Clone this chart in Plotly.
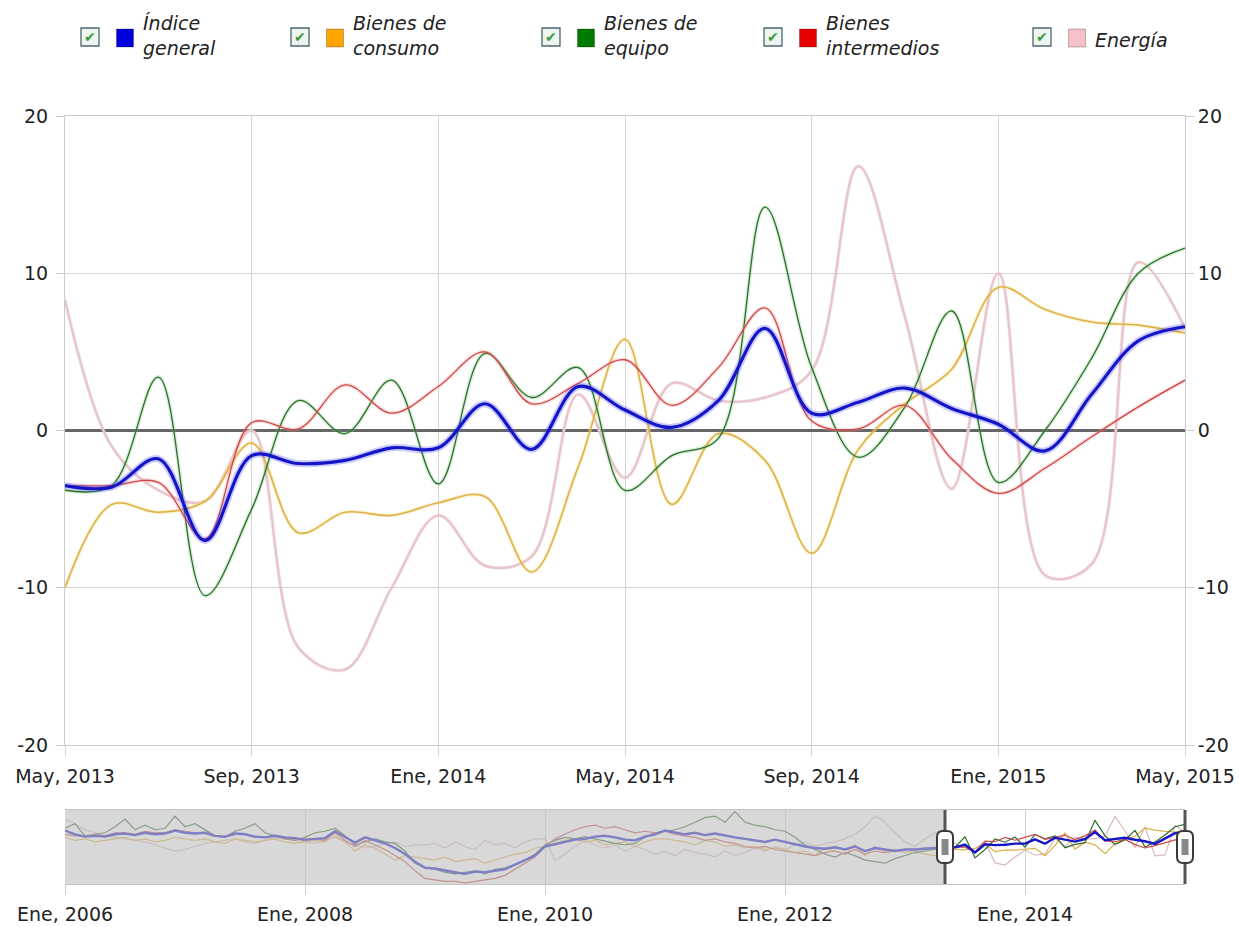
import plotly.graph_objects as go

# ---------------- data ----------------
series_names = ["Índice general", "Bienes de consumo", "Bienes de equipo",
                "Bienes intermedios", "Energía"]
legend_labels = ["Índice<br>general", "Bienes de<br>consumo", "Bienes de<br>equipo",
                 "Bienes<br>intermedios", "Energía"]

main_tick_labels = ["May, 2013", "Sep, 2013", "Ene, 2014", "May, 2014",
                    "Sep, 2014", "Ene, 2015", "May, 2015"]
nav_tick_labels = ["Ene, 2006", "Ene, 2008", "Ene, 2010", "Ene, 2012", "Ene, 2014"]
y_tick_values = [-20, -10, 0, 10, 20]
y_tick_labels = ["-20", "-10", "0", "10", "20"]

# Monthly values, Jan 2006 - Apr 2013 (navigator history)
general_hist = [7.5, 5, 3.5, 4, 3.5, 5, 5.5, 4.5, 6, 5, 5.5, 7.5,
                6, 5.5, 6, 4, 3.5, 5.5, 5, 3.5, 3, 4, 3, 2.5,
                1.5, 2, 2.5, 7, 3, -0.5, 3, 1, -1, -4, -8, -13,
                -17, -17.5, -19, -20, -21, -19.5, -20, -19, -18, -15, -12, -9,
                -3, -1.5, 0.5, 1.5, 2, 3.5, 4, 3, 1.5, 1, 3.5, 5,
                7.5, 6, 5, 6, 4.5, 5.5, 4, 3, 2, 1, 0, 1.5,
                0, -2, -3, -4, -4.5, -3.5, -5, -3, -6, -4, -5, -6,
                -5, -5, -4.5, -4]
consumo_hist = [3, 1, 2, 0, 1, 2, 3, 1, 2, 0, 1, 3,
                2, 1, 2, 0, -1, 2, 1, 0, 1, 2, 0, -1,
                0, 1, 0, 4, 0, -6, -2, -4, -8, -12, -9, -10,
                -11, -12, -10, -13, -12, -11, -14, -12, -10, -8, -7, -4,
                -3, -1, 1, 2, 0, 1, -2, -1, 0, -3, 0, 2,
                2, 1, 0, -2, 1, 0, -3, -2, -4, -3, -5, -4,
                -5, -7, -6, -9, -4, -6, -8, -2, -9, -3, -6, -5,
                -7, -6, -8, -9]
equipo_hist = [9, 12, 4, 5, 6, 10, 15, 8, 11, 8, 9, 17,
               10, 12, 8, 4, 3, 7, 9, 12, 6, 4, 2, 1,
               3, 6, 7, 9, 4, -2, 0, 2, 0, -1, -6, -14,
               -17, -18, -20, -21, -20, -19, -21, -18, -17, -15, -12, -8,
               -2, 1, 3, 2, 3.5, 2, 0, -1, -2, -1, 3, 6,
               7, 8, 10, 13, 16, 17, 13, 20, 13, 11, 10, 8,
               7, 3, -2, -5, -8, -10, -7, -9, -12, -13, -14, -11,
               -9, -7, -6, -5]
intermedios_hist = [5, 4, 4, 5, 4, 6, 6, 5, 7, 6, 6, 8,
                    7, 6, 6, 4, 3, 5, 5, 3, 3, 4, 2, 2,
                    1, 2, 1, 6, 1, -3, 1, -2, -5, -9, -13, -19,
                    -24, -25, -26, -26, -27, -26, -25, -24, -22, -18, -14, -10,
                    -3, 2, 5, 8, 10, 11, 9, 10, 8, 6, 7, 6,
                    7, 5, 4, 3, 1, 2, 0, -1, -3, -4, -3, -5,
                    -6, -7, -8, -9, -7, -6, -8, -5, -8, -6, -7, -6,
                    -5, -5, -4, -4]
energia_hist = [15, 12, 8, 6, 4, 3, 2, 1, 0, -2, -4, -6,
                -5, -3, -1, 0, 1, 2, 0, -1, 1, 3, 2, 1,
                0, -1, 1, 3, 0, -2, -4, -3, -1, 0, -3, -2,
                -2, -1, -4, 0, -3, -5, 1, -2, -1, -4, 0, 2,
                2, -12, -8, -3, 1, -2, -4, -2, -6, -3, -5, -8,
                -6, -9, -5, -7, -8, -10, -6, -9, -7, -4, -6, -3,
                -5, -2, 0, -3, -1, 0, 2, 5, 10, 17, 13, 6,
                0, -3, 2, 6]

# Monthly values, May 2013 - May 2015 (main chart)
general_main = [-3.5, -3.6, -1.8, -7.0, -1.6, -2.1, -1.9, -1.1, -1.1, 1.7, -1.2, 2.8,
                1.3, 0.2, 1.9, 6.5, 1.1, 1.8, 2.7, 1.4, 0.4, -1.3, 2.3, 5.7, 6.6]
consumo_main = [-10.0, -4.7, -5.2, -4.5, -0.8, -6.5, -5.2, -5.4, -4.6, -4.2, -9.0, -2.3,
                5.8, -4.7, -0.2, -1.9, -7.8, -1.2, 1.7, 3.9, 9.1, 7.7, 6.9, 6.7, 6.2]
equipo_main = [-3.8, -3.5, 3.4, -10.5, -5.0, 1.9, -0.2, 3.2, -3.4, 4.9, 2.1, 4.0,
               -3.8, -1.6, -0.5, 14.2, 4.0, -1.7, 1.5, 7.6, -3.3, 0.0, 4.6, 10.0, 11.6]
intermedios_main = [-3.5, -3.5, -3.3, -6.9, 0.5, 0.1, 2.9, 1.1, 2.8, 5.0, 1.7, 3.0,
                    4.5, 1.6, 4.0, 7.8, 0.6, 0.1, 1.6, -1.8, -4.0, -2.4, -0.4, 1.5, 3.2]
energia_main = [8.3, -1.0, -3.8, -4.5, 0.0, -13.8, -15.2, -10.0, -5.4, -8.6, -8.0, 2.3,
                -3.0, 3.0, 1.9, 2.1, 3.8, 16.8, 7.2, -3.7, 10.0, -9.2, -8.5, 10.7, 6.5]

hist = [general_hist, consumo_hist, equipo_hist, intermedios_hist, energia_hist]
main = [general_main, consumo_main, equipo_main, intermedios_main, energia_main]

# ---------------- styles ----------------
square_colors = ["#0000dd", "#ffa500", "#007a00", "#e60000", "#f6c0c8"]
line_colors = ["#1515c8", "#dcb24a", "#2c6c2c", "#cc4848", "#e6c6cb"]
halo_colors = ["rgba(70,70,255,0.28)", "rgba(255,215,110,0.30)", "rgba(120,200,120,0.28)",
               "rgba(255,140,140,0.28)", "rgba(240,210,215,0.35)"]
core_widths = [3.2, 1.6, 1.3, 1.3, 2.4]
halo_widths = [7, 4, 4, 4, 4]
nav_widths = [2.4, 1.2, 1.2, 1.2, 1.2]
draw_order = [4, 1, 2, 3, 0]

W, H = 1239, 927
ML, MR, MT, MB = 65, 54, 116, 43
PW, PH = W - ML - MR, H - MT - MB


def pxx(xp):
    return (xp - ML) / PW


def pxy(yp):
    return (H - MB - yp) / PH


FONT = "DejaVu Sans"
n_hist = len(general_hist)
main_x = list(range(n_hist, n_hist + len(general_main)))
full_x = list(range(n_hist + len(general_main)))
x_end = full_x[-1]

fig = go.Figure()

# main chart traces (smooth, with a soft halo)
for i in draw_order:
    fig.add_trace(go.Scatter(x=main_x, y=main[i], mode="lines", xaxis="x", yaxis="y",
                             line=dict(color=halo_colors[i], width=halo_widths[i],
                                       shape="spline", smoothing=1.0),
                             hoverinfo="skip", showlegend=False))
    fig.add_trace(go.Scatter(x=main_x, y=main[i], mode="lines", xaxis="x", yaxis="y",
                             name=series_names[i],
                             line=dict(color=line_colors[i], width=core_widths[i],
                                       shape="spline", smoothing=1.0),
                             showlegend=False))

# invisible trace carrying the right-hand axis
fig.add_trace(go.Scatter(x=main_x, y=general_main, mode="lines", xaxis="x", yaxis="y3",
                         line=dict(width=0), opacity=0, hoverinfo="skip", showlegend=False))

# navigator traces
for i in draw_order:
    fig.add_trace(go.Scatter(x=full_x, y=hist[i] + main[i], mode="lines",
                             xaxis="x2", yaxis="y2",
                             line=dict(color=line_colors[i] if i != 4 else "#dcb8be",
                                       width=nav_widths[i]),
                             hoverinfo="skip", showlegend=False))

tick_font = dict(family=FONT, size=19, color="#222222")
main_bottom = pxy(745)
nav_top = pxy(810)

fig.update_layout(
    width=W, height=H,
    margin=dict(l=ML, r=MR, t=MT, b=MB, autoexpand=False),
    paper_bgcolor="white", plot_bgcolor="white",
    showlegend=False,
    xaxis=dict(domain=[0, 1], anchor="y", range=[main_x[0], main_x[-1]],
               tickvals=main_x[::4], ticktext=main_tick_labels, automargin=False,
               showgrid=True, gridcolor="#d4d4d4", gridwidth=1,
               ticks="outside", ticklen=10, tickcolor="#d4d4d4", ticklabelstandoff=4,
               showline=True, mirror=True, linecolor="#cccccc",
               zeroline=False, tickfont=tick_font),
    yaxis=dict(domain=[main_bottom, 1], anchor="x", range=[-20, 20],
               tickvals=y_tick_values, ticktext=y_tick_labels, automargin=False,
               showgrid=True, gridcolor="#d4d4d4",
               zeroline=True, zerolinecolor="#666666", zerolinewidth=2.5,
               ticks="outside", ticklen=8, tickcolor="#cccccc", ticklabelstandoff=4,
               showline=True, linecolor="#cccccc", tickfont=tick_font),
    yaxis3=dict(overlaying="y", side="right", anchor="x", range=[-20, 20],
                tickvals=y_tick_values, ticktext=y_tick_labels, automargin=False,
                showgrid=False, zeroline=False, ticks="outside", ticklen=8,
                tickcolor="#cccccc", showline=True, linecolor="#cccccc",
                tickfont=tick_font),
    xaxis2=dict(domain=[0, 1], anchor="y2", range=[0, x_end],
                tickvals=full_x[::24], ticktext=nav_tick_labels, automargin=False,
                showgrid=True, gridcolor="#cfcfcf", ticks="outside", ticklen=10,
                tickcolor="#cfcfcf", ticklabelstandoff=3,
                showline=True, mirror=True, linecolor="#c4c4c4",
                zeroline=False, tickfont=tick_font),
    yaxis2=dict(domain=[0, nav_top], anchor="x2", range=[-27.7, 21], automargin=False,
                showticklabels=False, showgrid=False, zeroline=False, ticks=""),
)

shapes = []
# navigator: shaded unselected part
shapes.append(dict(type="rect", xref="x2", yref="y2 domain", x0=0, x1=n_hist, y0=0, y1=1,
                   fillcolor="rgba(192,192,192,0.62)", line=dict(width=0), layer="above"))
# navigator: handle lines and grips (paper-referenced so they are not clipped)
nav_mid = nav_top / 2
for hx in (n_hist, x_end):
    hp = hx / x_end
    shapes.append(dict(type="line", xref="paper", yref="paper", x0=hp, x1=hp,
                       y0=0, y1=nav_top,
                       line=dict(color="#555555", width=3), layer="above"))
    shapes.append(dict(type="path", xref="paper", yref="paper", xsizemode="pixel",
                       ysizemode="pixel", xanchor=hp, yanchor=nav_mid,
                       path="M -8,-10 Q -8,-16 -2,-16 L 2,-16 Q 8,-16 8,-10 L 8,10 "
                            "Q 8,16 2,16 L -2,16 Q -8,16 -8,10 Z",
                       fillcolor="white", line=dict(color="#3a3a3a", width=2), layer="above"))
    shapes.append(dict(type="rect", xref="paper", yref="paper", xsizemode="pixel",
                       ysizemode="pixel", xanchor=hp, yanchor=nav_mid, x0=-3.5, x1=3.5,
                       y0=-8, y1=8, fillcolor="#888888", line=dict(width=0), layer="above"))

# legend: checkbox, colour square, italic label
check_x = [90, 300, 551, 773, 1042]
annotations = []
for i, cx in enumerate(check_x):
    shapes.append(dict(type="rect", xref="paper", yref="paper",
                       x0=pxx(cx - 9), x1=pxx(cx + 9), y0=pxy(46), y1=pxy(28),
                       fillcolor="#eef5ee", line=dict(color="#4e6474", width=1.3)))
    annotations.append(dict(x=pxx(cx), y=pxy(37.5), xref="paper", yref="paper",
                            text="✔", showarrow=False, xanchor="center", yanchor="middle",
                            font=dict(family=FONT, size=14, color="#3a993a")))
    sx = cx + 35
    shapes.append(dict(type="rect", xref="paper", yref="paper",
                       x0=pxx(sx - 8.5), x1=pxx(sx + 8.5), y0=pxy(47), y1=pxy(29),
                       fillcolor=square_colors[i], line=dict(color="rgba(0,0,0,0.25)", width=1)))
    annotations.append(dict(x=pxx(sx + 16), y=pxy(35 if i < 4 else 40), xref="paper",
                            yref="paper", text="<i>" + legend_labels[i] + "</i>",
                            showarrow=False, xanchor="left", yanchor="middle", align="left",
                            font=dict(family=FONT, size=19, color="#222222")))

fig.update_layout(shapes=shapes, annotations=annotations)

fig.write_html("out.html", config={"displayModeBar": False},
               post_script="document.body.style.margin='0';")
